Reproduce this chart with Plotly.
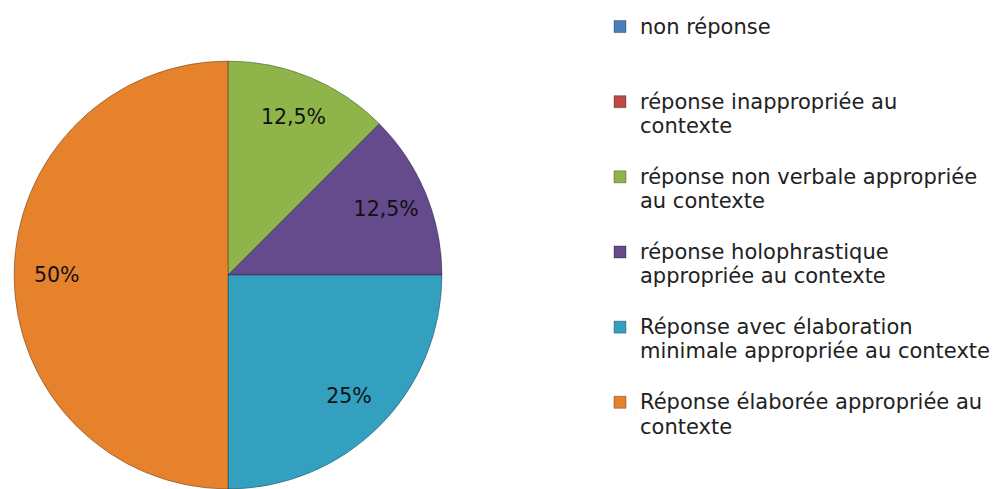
import plotly.graph_objects as go

categories = [
    "non réponse",
    "réponse inappropriée au<br>contexte",
    "réponse non verbale appropriée<br>au contexte",
    "réponse holophrastique<br>appropriée au contexte",
    "Réponse avec élaboration<br>minimale appropriée au contexte",
    "Réponse élaborée appropriée au<br>contexte",
]
values = [0, 0, 12.5, 12.5, 25, 50]
colors = ["#4a7ebb", "#be4b48", "#8fb54a", "#654a8c", "#34a0c0", "#e6812c"]

# the page body adds an 8px margin, so the figure is drawn 8px lower/right
OFF = 8
W, H = 1005 - OFF, 489 - OFF
cx, cy, r = 228 - OFF, 275 - OFF, 214
FS = 18.5        # sets legend line spacing
TXT = 21         # visible glyph size

# pad legend labels so every entry occupies three text lines
legend_labels = []
for c in categories:
    n = c.count("<br>") + 1
    lines = c.split("<br>") + ["&nbsp;"] * (3 - n)
    legend_labels.append("<br>".join(
        f"<span style='font-size:{TXT}px'>{ln}</span>" for ln in lines))

dom = dict(x=[(cx - r) / W, (cx + r) / W], y=[(H - cy - r) / H, (H - cy + r) / H])

fig = go.Figure()
fig.add_trace(
    go.Pie(
        labels=legend_labels,
        values=values,
        sort=False,
        direction="clockwise",
        rotation=0,
        marker=dict(colors=colors, line=dict(color="rgba(0,0,0,0.3)", width=1)),
        textinfo="none",
        domain=dom,
        hoverinfo="percent",
    )
)
# transparent ring carrying the percentage labels, placed toward the rim
fig.add_trace(
    go.Pie(
        labels=legend_labels,
        values=values,
        sort=False,
        direction="clockwise",
        rotation=0,
        hole=0.6,
        marker=dict(colors=["rgba(0,0,0,0)"] * len(values), line=dict(width=0)),
        textinfo="percent",
        textposition="inside",
        insidetextorientation="horizontal",
        textfont=dict(family="DejaVu Sans", size=20.5, color="#111111"),
        domain=dom,
        showlegend=False,
        hoverinfo="skip",
    )
)

fig.update_layout(
    width=W,
    height=H,
    margin=dict(l=0, r=0, t=0, b=0),
    paper_bgcolor="white",
    plot_bgcolor="white",
    separators=", ",
    font=dict(family="DejaVu Sans", size=FS, color="#222222"),
    legend=dict(
        x=(600 - OFF) / W,
        xanchor="left",
        y=1.0,
        yanchor="top",
        valign="top",
        font=dict(family="DejaVu Sans", size=FS, color="#222222"),
        bgcolor="rgba(0,0,0,0)",
        itemclick=False,
    ),
    showlegend=True,
)

fig.write_html("out.html")
